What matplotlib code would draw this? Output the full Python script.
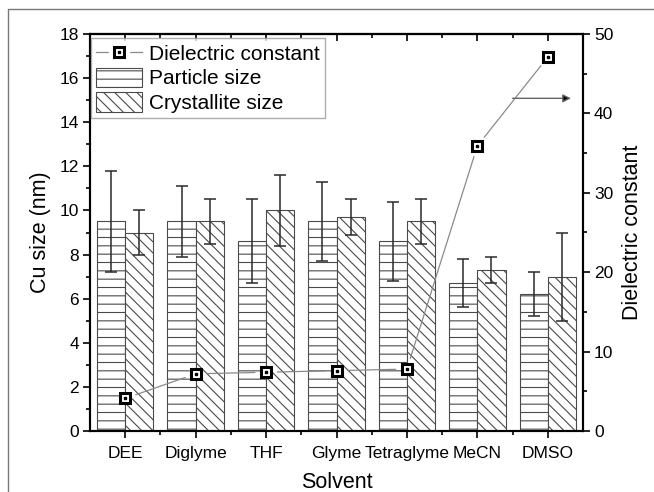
import numpy as np
import matplotlib
matplotlib.use("Agg")
import matplotlib.pyplot as plt
from matplotlib.lines import Line2D
from matplotlib.patches import Patch
from matplotlib.legend_handler import HandlerTuple
from matplotlib.ticker import MultipleLocator, FixedLocator

plt.rcParams['font.family'] = ['Liberation Sans', 'DejaVu Sans']
plt.rcParams['hatch.linewidth'] = 0.8

# Data
solvents = ['DEE', 'Diglyme', 'THF', 'Glyme', 'Tetraglyme', 'MeCN', 'DMSO']
particle_size = [9.5, 9.5, 8.6, 9.5, 8.6, 6.7, 6.2]
particle_err = [2.3, 1.6, 1.9, 1.8, 1.8, 1.1, 1.0]
crystallite_size = [9.0, 9.5, 10.0, 9.7, 9.5, 7.3, 7.0]
crystallite_err = [1.0, 1.0, 1.6, 0.8, 1.0, 0.6, 2.0]
dielectric = [4.1, 7.2, 7.4, 7.6, 7.8, 35.9, 47.1]

x = np.arange(1, len(solvents) + 1)
w = 0.4

fig = plt.figure(figsize=(6.54, 4.92), dpi=100)
ax = fig.add_axes([90 / 654, 1 - 431 / 492, (583 - 90) / 654, (431 - 34) / 492])

edge = '#4a4a4a'
ax.bar(x - w / 2, particle_size, w, color='white', edgecolor=edge, hatch='--',
       linewidth=0.8, label='Particle size', zorder=2)
ax.bar(x + w / 2, crystallite_size, w, color='white', edgecolor=edge, hatch='\\\\\\',
       linewidth=0.8, label='Crystallite size', zorder=2)
ax.errorbar(x - w / 2, particle_size, yerr=particle_err, fmt='none', ecolor='#2a2a2a',
            elinewidth=1.1, capsize=4, capthick=1.1, zorder=3)
ax.errorbar(x + w / 2, crystallite_size, yerr=crystallite_err, fmt='none', ecolor='#2a2a2a',
            elinewidth=1.1, capsize=4, capthick=1.1, zorder=3)

ax.set_xlim(0.5, 7.5)
ax.set_ylim(0, 18)
ax.set_xticks(x)
ax.set_xticklabels(solvents, fontsize=12.5)
ax.xaxis.set_minor_locator(FixedLocator(x[:-1] + 0.5))
ax.yaxis.set_major_locator(MultipleLocator(2))
ax.yaxis.set_minor_locator(MultipleLocator(1))
ax.tick_params(axis='both', which='major', direction='out', length=5, width=1.2, labelsize=12.5, pad=3)
ax.tick_params(axis='both', which='minor', direction='out', length=3, width=1.2)
ax.tick_params(axis='x', which='major', pad=5.5)
ax.set_xlabel('Solvent', fontsize=15.5, labelpad=8)
ax.set_ylabel('Cu size (nm)', fontsize=15.5, labelpad=6)

# Top axis with inward ticks only
top = ax.secondary_xaxis('top')
top.set_xticks(x)
top.xaxis.set_minor_locator(FixedLocator(x[:-1] + 0.5))
top.tick_params(which='major', direction='in', length=5, width=1.2, labeltop=False)
top.tick_params(which='minor', direction='in', length=3, width=1.2)
top.spines['top'].set_linewidth(1.5)

for s in ax.spines.values():
    s.set_linewidth(1.5)

# Dielectric constant on the right axis
ax2 = ax.twinx()
ax2.set_ylim(0, 50)
ax2.yaxis.set_major_locator(MultipleLocator(10))
ax2.yaxis.set_minor_locator(MultipleLocator(5))
ax2.tick_params(axis='y', which='major', direction='out', length=5, width=1.2, labelsize=12.5, pad=3)
ax2.tick_params(axis='y', which='minor', direction='out', length=3, width=1.2)
ax2.set_ylabel('Dielectric constant', fontsize=15.5, labelpad=6)
for s in ax2.spines.values():
    s.set_linewidth(1.5)

line_col = '#8a8a8a'
for i in range(len(x) - 1):
    ax2.annotate('', xy=(x[i + 1], dielectric[i + 1]), xytext=(x[i], dielectric[i]),
                 arrowprops=dict(arrowstyle='-', color=line_col, lw=0.9,
                                 shrinkA=8, shrinkB=8))
ax2.plot(x, dielectric, ls='none', marker='s', ms=7, mfc='white', mec='black', mew=2.2, zorder=4)
ax2.plot(x, dielectric, ls='none', marker='s', ms=1.8, color='black', zorder=5)

# Arrow pointing at the right axis
ax2.annotate('', xy=(7.33, 41.9), xytext=(6.5, 41.9),
             arrowprops=dict(arrowstyle='-|>', fc='black', ec='#666666', lw=1.0,
                             mutation_scale=12, shrinkA=0, shrinkB=0))

# Legend
h_line = (Line2D([], [], color=line_col, lw=0.9),
          Line2D([], [], ls='none', marker='s', ms=14, mfc='white', mec='white'),
          Line2D([], [], ls='none', marker='s', ms=7, mfc='white', mec='black', mew=2.2),
          Line2D([], [], ls='none', marker='s', ms=1.8, color='black'))
h_p = Patch(facecolor='white', edgecolor=edge, hatch='--', linewidth=0.8)
h_c = Patch(facecolor='white', edgecolor=edge, hatch='\\\\\\', linewidth=0.8)
leg = ax2.legend([h_line, h_p, h_c], ['Dielectric constant', 'Particle size', 'Crystallite size'],
                 handler_map={tuple: HandlerTuple(ndivide=1)},
                 loc='upper left', bbox_to_anchor=(1 / 493, 1 - 4 / 397), borderaxespad=0,
                 fontsize=15, frameon=True, fancybox=False, edgecolor='#999999',
                 handlelength=2.2, handleheight=1.05, handletextpad=0.35,
                 labelspacing=0.18, borderpad=0.25)
leg.get_frame().set_linewidth(1.0)

# Outer frame
fig.add_artist(Line2D([8 / 654, 8 / 654, 1.0], [0.0, 1 - 9 / 492, 1 - 9 / 492],
                      transform=fig.transFigure, color='#777777', lw=1.0))

fig.savefig('out.png', dpi=100)
